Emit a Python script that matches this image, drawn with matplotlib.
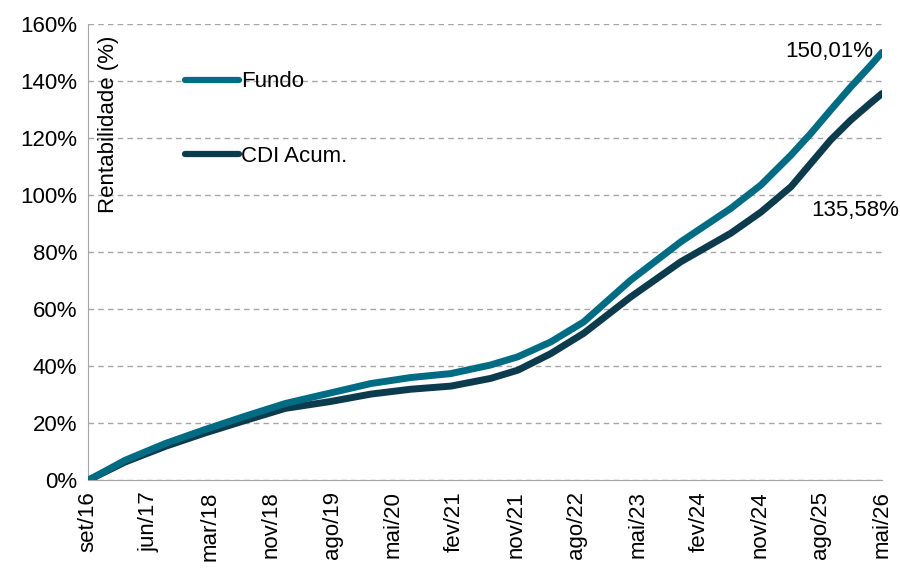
import matplotlib.pyplot as plt

# months since set/16
months = [0, 5.4, 11.3, 17.1, 23.0, 28.8, 35.4, 41.3, 47.1, 53.0, 58.8, 62.8,
          67.6, 72.4, 79.3, 86.6, 93.9, 98.3, 102.7, 105.6, 108.5, 111.4, 114.4, 116]
fundo = [0, 7.0, 12.9, 17.8, 22.5, 26.9, 30.6, 33.9, 36.0, 37.4, 40.4, 43.3,
         48.5, 55.5, 70.2, 83.6, 95.3, 103.5, 114.0, 121.6, 129.8, 137.8, 145.6, 150.01]
cdi = [0, 6.4, 11.9, 16.6, 21.0, 25.2, 27.6, 30.2, 31.9, 33.0, 35.7, 38.6,
       44.4, 51.5, 64.3, 76.6, 86.6, 94.0, 102.9, 111.1, 119.3, 126.2, 132.4, 135.58]

tick_labels = ["set/16", "jun/17", "mar/18", "nov/18", "ago/19", "mai/20", "fev/21",
               "nov/21", "ago/22", "mai/23", "fev/24", "nov/24", "ago/25", "mai/26"]

plt.rcParams['font.family'] = ['Liberation Sans', 'DejaVu Sans']

fig = plt.figure(figsize=(9, 5.69), dpi=100)
ax = fig.add_axes([0.098, 0.156, 0.882, 0.802])

c_fundo = '#006c84'
c_cdi = '#0b3b4d'

ax.plot(months, cdi, color=c_cdi, lw=5, solid_capstyle='round', solid_joinstyle='round',
        label='CDI Acum.', zorder=3)
ax.plot(months, fundo, color=c_fundo, lw=5, solid_capstyle='round', solid_joinstyle='round',
        label='Fundo', zorder=4)

ax.set_xlim(0, 116)
ax.set_ylim(0, 160)
ax.set_yticks(range(0, 161, 20))
ax.set_yticklabels([f"{v}%" for v in range(0, 161, 20)], fontsize=16)
step = 116 / (len(tick_labels) - 1)
ax.set_xticks([i * step for i in range(len(tick_labels))])
ax.set_xticklabels(tick_labels, rotation=90, fontsize=16)
ax.tick_params(length=0, pad=8)

ax.grid(axis='y', linestyle=(0, (4, 3)), color='#a6a6a6', lw=1)
ax.set_axisbelow(True)
for s in ['top', 'right']:
    ax.spines[s].set_visible(False)
ax.spines['left'].set_color('#a6a6a6')
ax.spines['bottom'].set_color('#a6a6a6')

ax.text(0.012, 0.975, 'Rentabilidade (%)', transform=ax.transAxes, rotation=90,
        va='top', ha='left', fontsize=16)

h, l = ax.get_legend_handles_labels()
leg = ax.legend(h[::-1], l[::-1], loc='upper left', bbox_to_anchor=(0.097, 0.94),
                frameon=False, fontsize=16, handlelength=2.4, handletextpad=0.1,
                labelspacing=2.4)
for line in leg.get_lines():
    line.set_linewidth(4.5)

ax.annotate('150,01%', xy=(months[-1], fundo[-1]), xytext=(-6, 1),
            textcoords='offset points', ha='right', va='center', fontsize=16)
ax.annotate('135,58%', xy=(months[-1], cdi[-1]), xytext=(12, -84),
            textcoords='offset points', ha='right', va='center', fontsize=16)

fig.savefig('out.png', dpi=100)
